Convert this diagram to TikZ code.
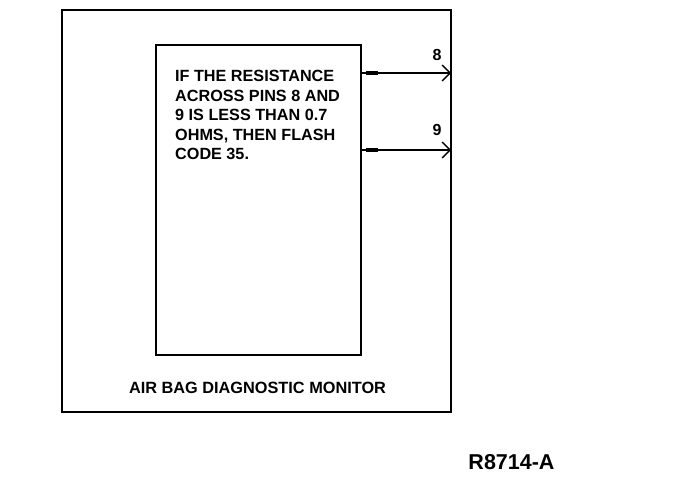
\documentclass[tikz,border=0pt]{standalone}
\usepackage{fontspec}
\setmainfont{Liberation Sans}
\usetikzlibrary{arrows.meta}
\tikzset{
  frame/.style={draw=black, line width=2pt},
  pinline/.style={draw=black, line width=1.3pt, -{Straight Barb[length=8pt,width=16pt,line width=1.4pt]}},
  lbl/.style={font=\bfseries\fontsize{16}{20}\selectfont, inner sep=0pt},
}
\begin{document}
\begin{tikzpicture}[x=1pt,y=-1pt]
\useasboundingbox (0,0) rectangle (688,480);
\node[frame, minimum width=389pt, minimum height=402pt, inner sep=0pt] (outer) at (256.5,211) {};
\node[frame, minimum width=205pt, minimum height=310pt, inner sep=0pt] (inner) at (258.5,200) {};
\coordinate (a8) at (361,73);
\coordinate (b8) at (451,73);
\coordinate (a9) at (361,150);
\coordinate (b9) at (451,150);
\draw[pinline] (a8) -- (b8);
\draw[pinline] (a9) -- (b9);
\draw[line width=4pt] (a8) ++(5,0) coordinate (t8s) -- ++(12,0) coordinate (t8e);
\draw[line width=4pt] (a9) ++(5,0) coordinate (t9s) -- ++(12,0) coordinate (t9e);
\node[lbl] (n8) at (437,55) {8};
\node[lbl] (n9) at (437,130) {9};
\node[lbl, anchor=north west, align=left, font=\bfseries\fontsize{16.2}{19.5}\selectfont] (txt) at (175,70)
  {IF THE RESISTANCE\\ACROSS PINS 8 AND\\9 IS LESS THAN 0.7\\OHMS, THEN FLASH\\CODE 35.};
\node[lbl, font=\bfseries\fontsize{16.3}{18}\selectfont] (cap) at (257.5,388) {AIR BAG DIAGNOSTIC MONITOR};
\node[lbl, font=\bfseries\fontsize{21.5}{24}\selectfont] (code) at (511.5,462) {R8714-A};
\end{tikzpicture}
\end{document}
